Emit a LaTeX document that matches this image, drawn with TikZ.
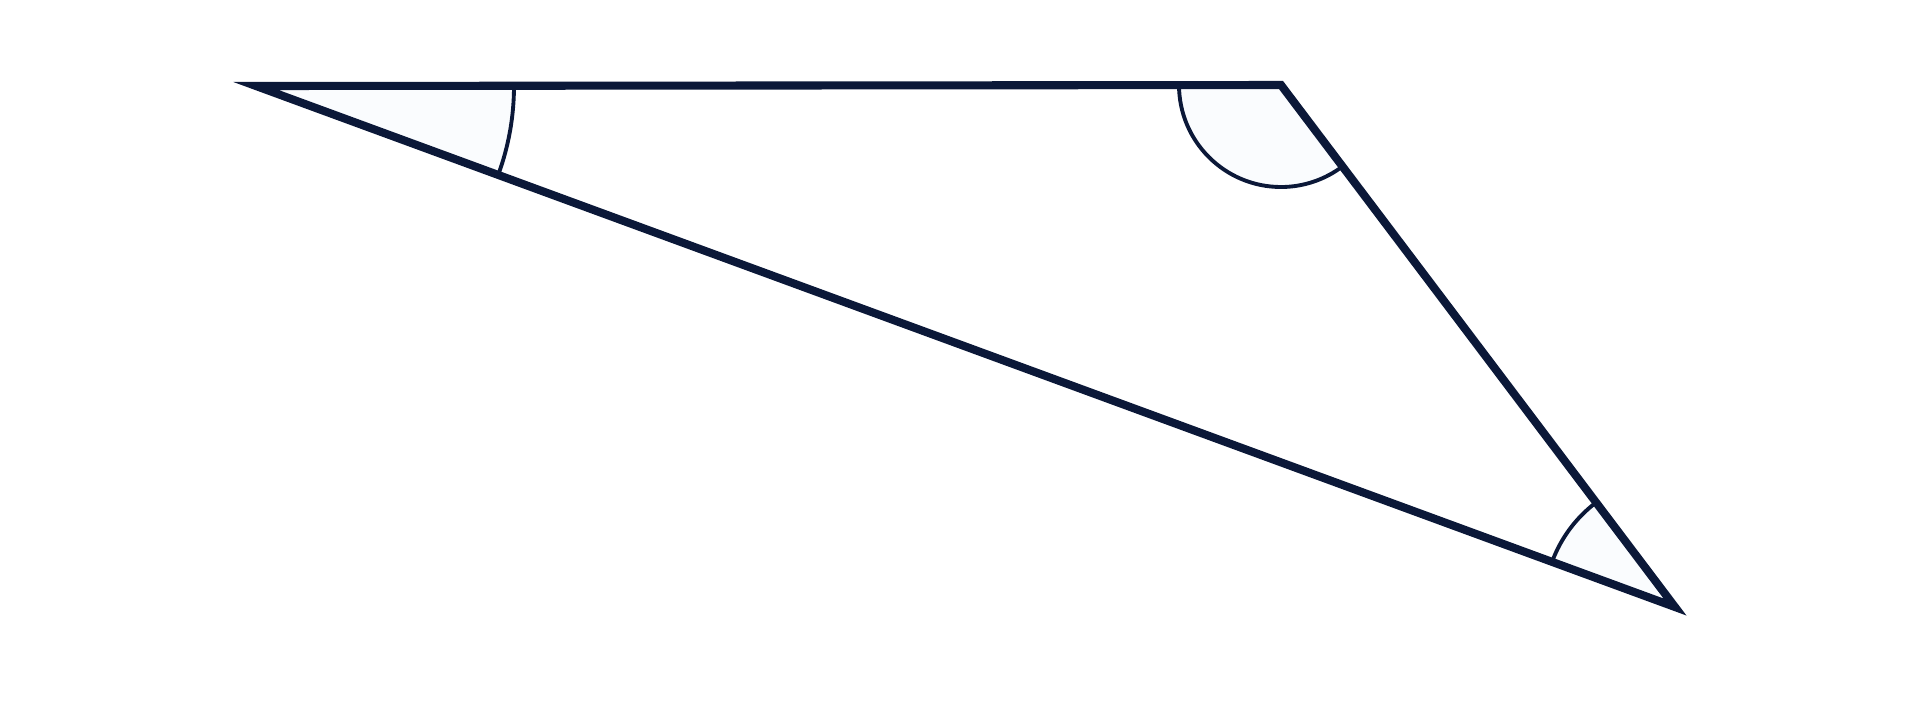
\documentclass[tikz,border=0pt]{standalone}
\usepackage{amsmath,amssymb}
\usepackage{tikz}
\definecolor{navy}{HTML}{0B1838}
\definecolor{pale}{HTML}{FAFCFE}

\begin{document}
\begin{tikzpicture}[
    side/.style={draw=navy, line width=2.3pt, line join=miter},
    anglearc/.style={draw=navy, line width=1.1pt},
    sector/.style={fill=pale}
    ]
    \useasboundingbox (0,0) rectangle (19.2,7);
    \coordinate (A) at (2.56,6.14);
    \coordinate (B) at (12.81,6.15);
    \coordinate (C) at (16.75,0.93);
    \foreach \v/\s/\e/\r in {A/-20.16/0.06/2.58, B/180/307.04/1.02, C/127.04/159.84/1.31}{
      \fill[sector] (\v) -- ++(\s:\r) arc[start angle=\s, end angle=\e, radius=\r] -- cycle;
      \draw[anglearc] (\v) ++(\s:\r) arc[start angle=\s, end angle=\e, radius=\r];
    }
    \draw[side] (A) -- (B) -- (C) -- cycle;
  \end{tikzpicture}
\end{document}
